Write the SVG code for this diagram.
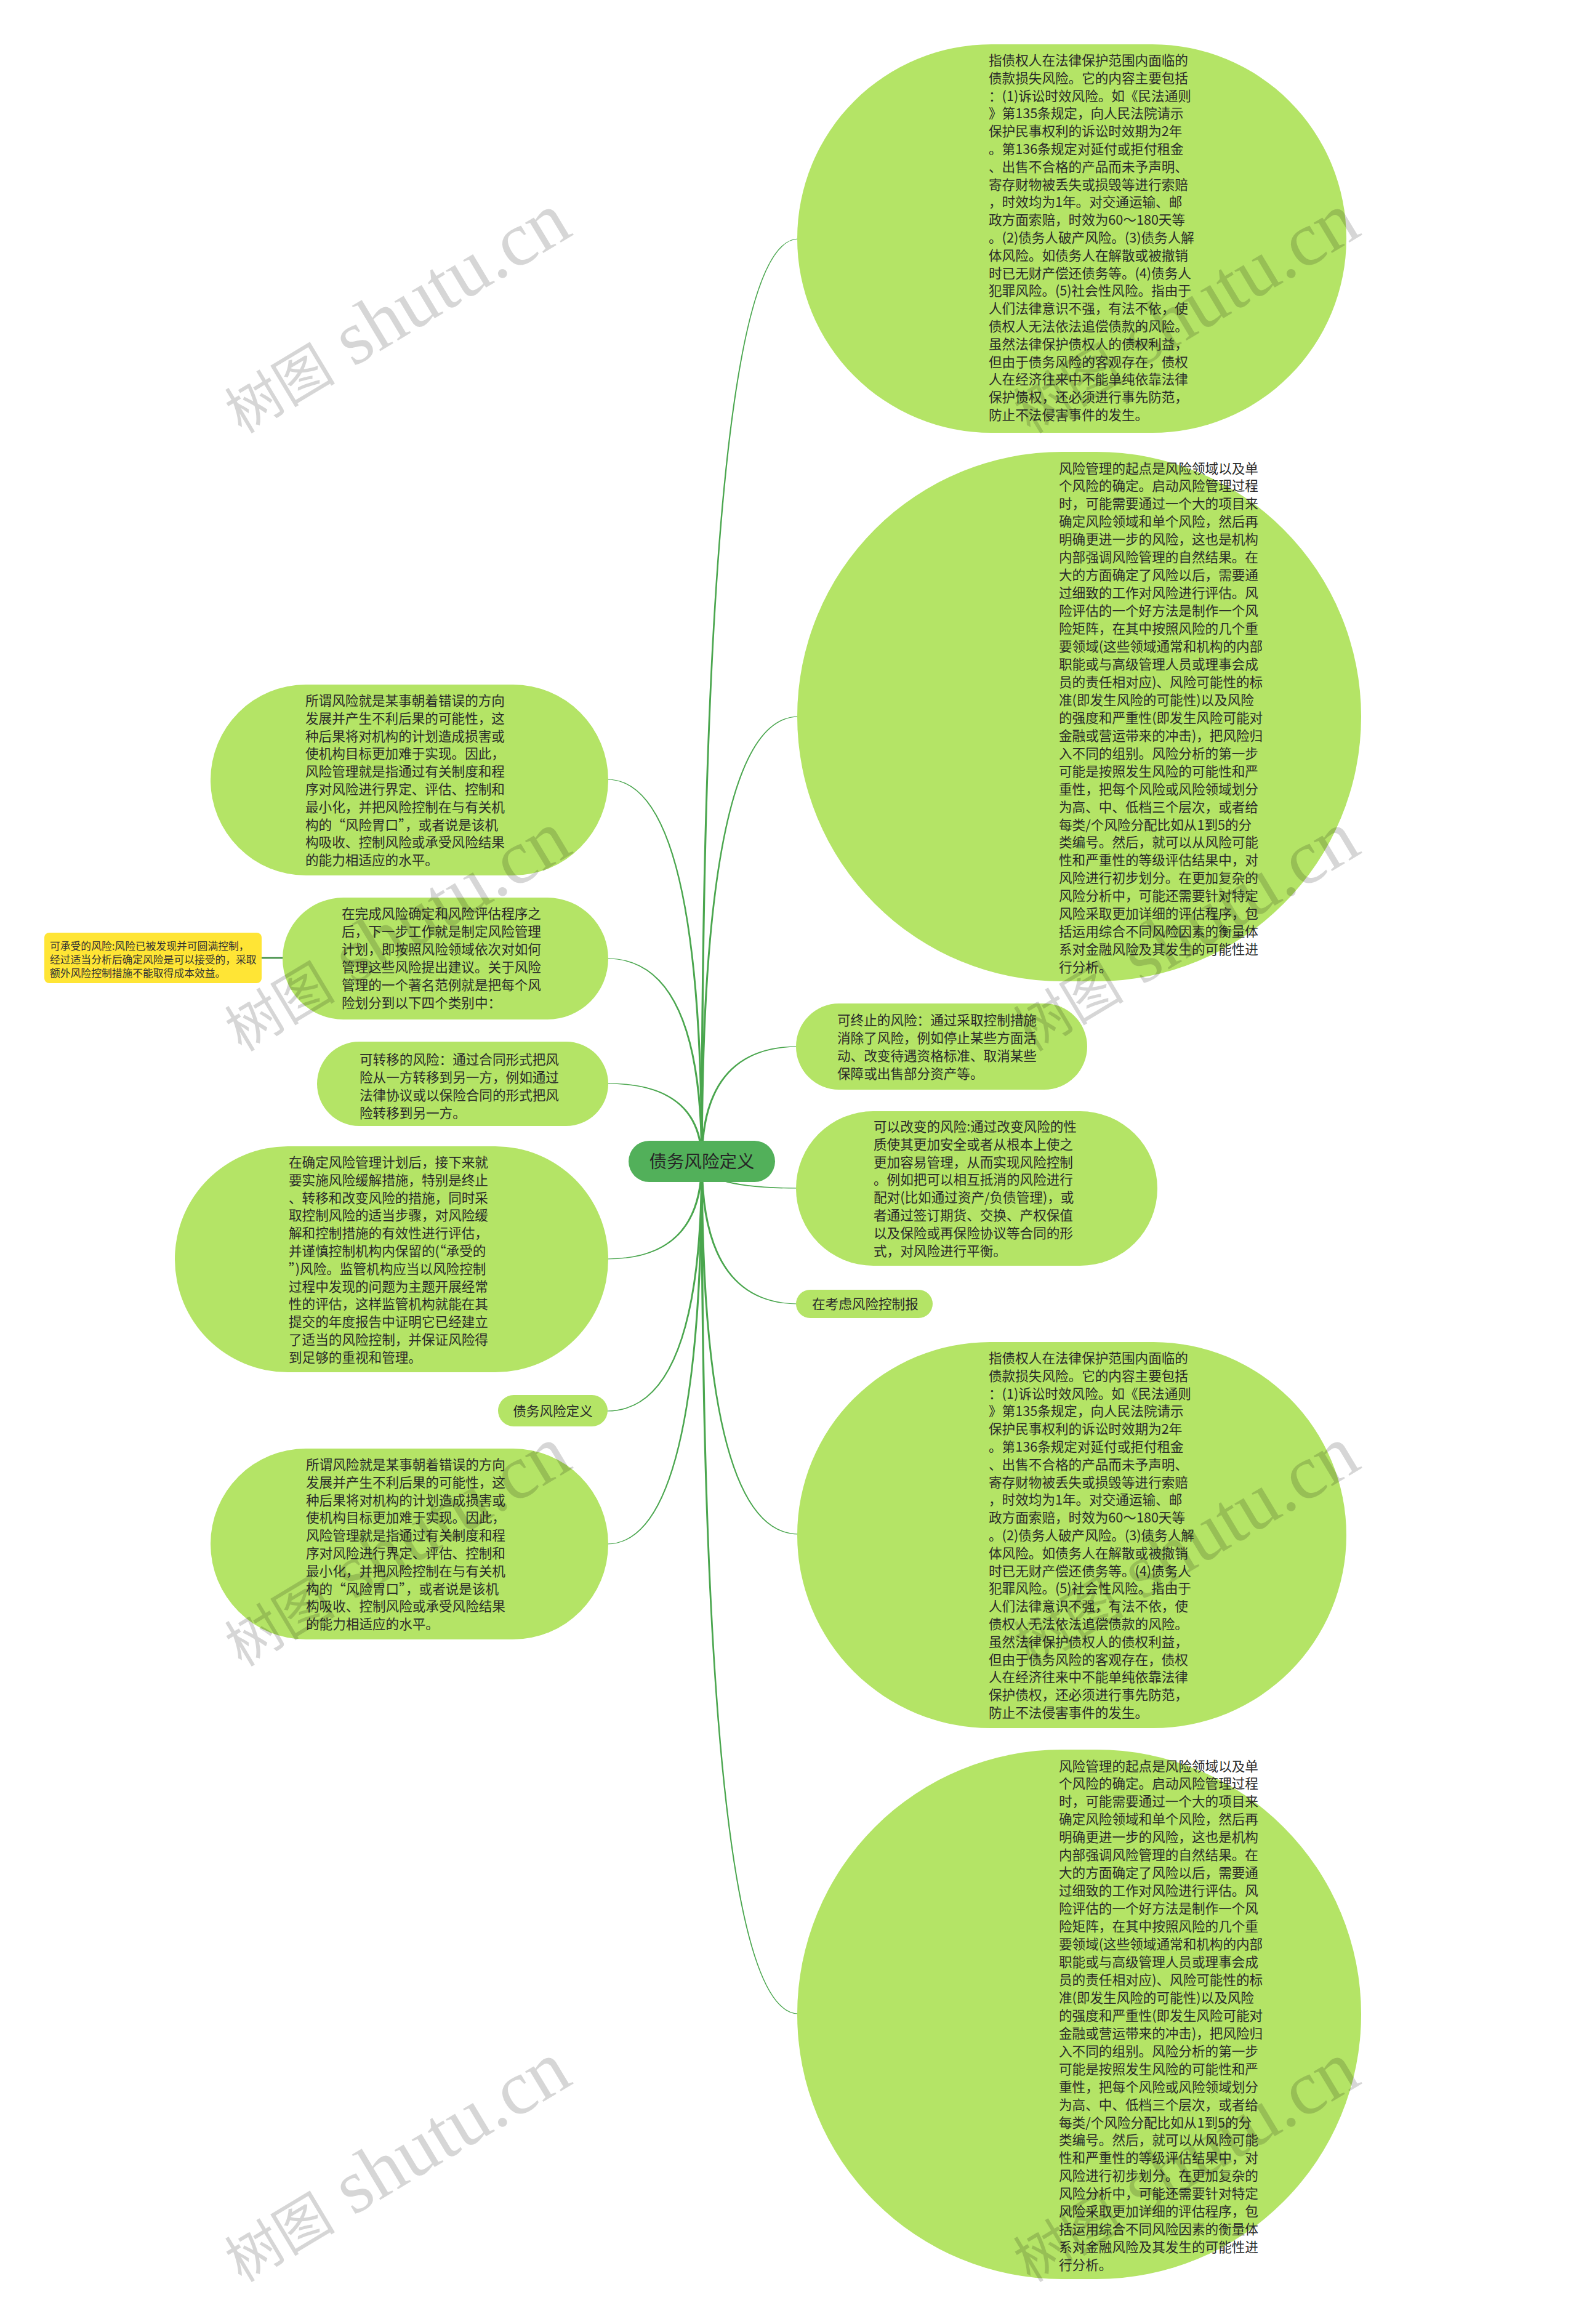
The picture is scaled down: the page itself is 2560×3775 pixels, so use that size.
<svg xmlns="http://www.w3.org/2000/svg" width="2560" height="3775" viewBox="0 0 2560 3775">
<style>
.n{fill:#b4e466}
.c{fill:#52b05a}
.y{fill:#ffe535}
.t{font-family:"Noto Sans CJK SC","Noto Sans",sans-serif;font-size:21.6px;fill:#2a2a2a}
.ts{font-family:"Noto Sans CJK SC","Noto Sans",sans-serif;font-size:16.8px;fill:#333}
.ct{font-family:"Noto Sans CJK SC","Noto Sans",sans-serif;font-size:28.5px;fill:#262626}
.e{fill:#4aa64e}
.wm{font-family:"Liberation Serif","Noto Sans CJK SC",serif;font-size:125px;fill:#000;fill-opacity:0.16}
</style>
<rect width="2560" height="3775" fill="#ffffff"/>
<g id="connectors">
<path class="e" d="M1138.2,1887 Q1138.8,386.8 1297,387.4 L1297,388.6 Q1141.2,389.2 1141.8,1887 Z"/>
<path class="e" d="M1138.2,1887 Q1138.8,1162.8 1297,1163.4 L1297,1164.6 Q1141.2,1165.2 1141.8,1887 Z"/>
<path class="e" d="M1138.2,1887 Q1138.8,1698.8 1297,1699.4 L1297,1700.6 Q1141.2,1701.2 1141.8,1887 Z"/>
<path class="e" d="M1138.2,1887 Q1138.8,1931.2 1297,1930.6 L1297,1929.4 Q1141.2,1928.8 1141.8,1887 Z"/>
<path class="e" d="M1138.2,1887 Q1138.8,2119.2 1297,2118.6 L1297,2117.4 Q1141.2,2116.8 1141.8,1887 Z"/>
<path class="e" d="M1138.2,1887 Q1138.8,2493.2 1297,2492.6 L1297,2491.4 Q1141.2,2490.8 1141.8,1887 Z"/>
<path class="e" d="M1138.2,1887 Q1138.8,3272.2 1297,3271.6 L1297,3270.4 Q1141.2,3269.8 1141.8,1887 Z"/>
<path class="e" d="M1141.8,1887 Q1141.2,1264.8 986,1265.4 L986,1266.6 Q1138.8,1267.2 1138.2,1887 Z"/>
<path class="e" d="M1141.8,1887 Q1141.2,1555.8 986,1556.4 L986,1557.6 Q1138.8,1558.2 1138.2,1887 Z"/>
<path class="e" d="M1141.8,1887 Q1141.2,1758.8 986,1759.4 L986,1760.6 Q1138.8,1761.2 1138.2,1887 Z"/>
<path class="e" d="M1141.8,1887 Q1141.2,2046.2 986,2045.6 L986,2044.4 Q1138.8,2043.8 1138.2,1887 Z"/>
<path class="e" d="M1141.8,1887 Q1141.2,2293.2 986,2292.6 L986,2291.4 Q1138.8,2290.8 1138.2,1887 Z"/>
<path class="e" d="M1141.8,1887 Q1141.2,2509.2 986,2508.6 L986,2507.4 Q1138.8,2506.8 1138.2,1887 Z"/>
<line x1="424" y1="1556" x2="462" y2="1556" stroke="#3d8b40" stroke-width="2.5"/>
</g>
<g id="center">
<rect class="c" x="1021" y="1853" width="238" height="67" rx="33.5"/>
<text class="ct" x="1140" y="1897" text-anchor="middle">债务风险定义</text>
</g>
<g id="nodeA">
<rect class="n" x="1295" y="72" width="892" height="631" rx="315.5"/>
<text class="t" y="106"><tspan x="1606">指债权人在法律保护范围内面临的</tspan><tspan x="1606" dy="28.8">债款损失风险。它的内容主要包括</tspan><tspan x="1606" dy="28.8">：(1)诉讼时效风险。如《民法通则</tspan><tspan x="1606" dy="28.8">》第135条规定，向人民法院请示</tspan><tspan x="1606" dy="28.8">保护民事权利的诉讼时效期为2年</tspan><tspan x="1606" dy="28.8">。第136条规定对延付或拒付租金</tspan><tspan x="1606" dy="28.8">、出售不合格的产品而未予声明、</tspan><tspan x="1606" dy="28.8">寄存财物被丢失或损毁等进行索赔</tspan><tspan x="1606" dy="28.8">，时效均为1年。对交通运输、邮</tspan><tspan x="1606" dy="28.8">政方面索赔，时效为60～180天等</tspan><tspan x="1606" dy="28.8">。(2)债务人破产风险。(3)债务人解</tspan><tspan x="1606" dy="28.8">体风险。如债务人在解散或被撤销</tspan><tspan x="1606" dy="28.8">时已无财产偿还债务等。(4)债务人</tspan><tspan x="1606" dy="28.8">犯罪风险。(5)社会性风险。指由于</tspan><tspan x="1606" dy="28.8">人们法律意识不强，有法不依，使</tspan><tspan x="1606" dy="28.8">债权人无法依法追偿债款的风险。</tspan><tspan x="1606" dy="28.8">虽然法律保护债权人的债权利益，</tspan><tspan x="1606" dy="28.8">但由于债务风险的客观存在，债权</tspan><tspan x="1606" dy="28.8">人在经济往来中不能单纯依靠法律</tspan><tspan x="1606" dy="28.8">保护债权，还必须进行事先防范，</tspan><tspan x="1606" dy="28.8">防止不法侵害事件的发生。</tspan></text>
</g>
<g id="nodeB">
<rect class="n" x="1295" y="734" width="916" height="860" rx="430"/>
<text class="t" y="768.5"><tspan x="1720">风险管理的起点是风险领域以及单</tspan><tspan x="1720" dy="28.95">个风险的确定。启动风险管理过程</tspan><tspan x="1720" dy="28.95">时，可能需要通过一个大的项目来</tspan><tspan x="1720" dy="28.95">确定风险领域和单个风险，然后再</tspan><tspan x="1720" dy="28.95">明确更进一步的风险，这也是机构</tspan><tspan x="1720" dy="28.95">内部强调风险管理的自然结果。在</tspan><tspan x="1720" dy="28.95">大的方面确定了风险以后，需要通</tspan><tspan x="1720" dy="28.95">过细致的工作对风险进行评估。风</tspan><tspan x="1720" dy="28.95">险评估的一个好方法是制作一个风</tspan><tspan x="1720" dy="28.95">险矩阵，在其中按照风险的几个重</tspan><tspan x="1720" dy="28.95">要领域(这些领域通常和机构的内部</tspan><tspan x="1720" dy="28.95">职能或与高级管理人员或理事会成</tspan><tspan x="1720" dy="28.95">员的责任相对应)、风险可能性的标</tspan><tspan x="1720" dy="28.95">准(即发生风险的可能性)以及风险</tspan><tspan x="1720" dy="28.95">的强度和严重性(即发生风险可能对</tspan><tspan x="1720" dy="28.95">金融或营运带来的冲击)，把风险归</tspan><tspan x="1720" dy="28.95">入不同的组别。风险分析的第一步</tspan><tspan x="1720" dy="28.95">可能是按照发生风险的可能性和严</tspan><tspan x="1720" dy="28.95">重性，把每个风险或风险领域划分</tspan><tspan x="1720" dy="28.95">为高、中、低档三个层次，或者给</tspan><tspan x="1720" dy="28.95">每类/个风险分配比如从1到5的分</tspan><tspan x="1720" dy="28.95">类编号。然后，就可以从风险可能</tspan><tspan x="1720" dy="28.95">性和严重性的等级评估结果中，对</tspan><tspan x="1720" dy="28.95">风险进行初步划分。在更加复杂的</tspan><tspan x="1720" dy="28.95">风险分析中，可能还需要针对特定</tspan><tspan x="1720" dy="28.95">风险采取更加详细的评估程序，包</tspan><tspan x="1720" dy="28.95">括运用综合不同风险因素的衡量体</tspan><tspan x="1720" dy="28.95">系对金融风险及其发生的可能性进</tspan><tspan x="1720" dy="28.95">行分析。</tspan></text>
</g>
<g id="nodeC">
<rect class="n" x="1293" y="1630" width="473" height="140" rx="70"/>
<text class="t" y="1665"><tspan x="1360">可终止的风险：通过采取控制措施</tspan><tspan x="1360" dy="29">消除了风险，例如停止某些方面活</tspan><tspan x="1360" dy="29">动、改变待遇资格标准、取消某些</tspan><tspan x="1360" dy="29">保障或出售部分资产等。</tspan></text>
</g>
<g id="nodeD">
<rect class="n" x="1293" y="1805" width="587" height="251" rx="125.5"/>
<text class="t" y="1838"><tspan x="1419">可以改变的风险:通过改变风险的性</tspan><tspan x="1419" dy="28.8">质使其更加安全或者从根本上使之</tspan><tspan x="1419" dy="28.8">更加容易管理，从而实现风险控制</tspan><tspan x="1419" dy="28.8">。例如把可以相互抵消的风险进行</tspan><tspan x="1419" dy="28.8">配对(比如通过资产/负债管理)，或</tspan><tspan x="1419" dy="28.8">者通过签订期货、交换、产权保值</tspan><tspan x="1419" dy="28.8">以及保险或再保险协议等合同的形</tspan><tspan x="1419" dy="28.8">式，对风险进行平衡。</tspan></text>
</g>
<g id="nodeE">
<rect class="n" x="1293" y="2095" width="222" height="46" rx="23"/>
<text class="t" x="1319" y="2126">在考虑风险控制报</text>
</g>
<g id="nodeF">
<rect class="n" x="1295" y="2180" width="892" height="627" rx="313.5"/>
<text class="t" y="2214"><tspan x="1606">指债权人在法律保护范围内面临的</tspan><tspan x="1606" dy="28.8">债款损失风险。它的内容主要包括</tspan><tspan x="1606" dy="28.8">：(1)诉讼时效风险。如《民法通则</tspan><tspan x="1606" dy="28.8">》第135条规定，向人民法院请示</tspan><tspan x="1606" dy="28.8">保护民事权利的诉讼时效期为2年</tspan><tspan x="1606" dy="28.8">。第136条规定对延付或拒付租金</tspan><tspan x="1606" dy="28.8">、出售不合格的产品而未予声明、</tspan><tspan x="1606" dy="28.8">寄存财物被丢失或损毁等进行索赔</tspan><tspan x="1606" dy="28.8">，时效均为1年。对交通运输、邮</tspan><tspan x="1606" dy="28.8">政方面索赔，时效为60～180天等</tspan><tspan x="1606" dy="28.8">。(2)债务人破产风险。(3)债务人解</tspan><tspan x="1606" dy="28.8">体风险。如债务人在解散或被撤销</tspan><tspan x="1606" dy="28.8">时已无财产偿还债务等。(4)债务人</tspan><tspan x="1606" dy="28.8">犯罪风险。(5)社会性风险。指由于</tspan><tspan x="1606" dy="28.8">人们法律意识不强，有法不依，使</tspan><tspan x="1606" dy="28.8">债权人无法依法追偿债款的风险。</tspan><tspan x="1606" dy="28.8">虽然法律保护债权人的债权利益，</tspan><tspan x="1606" dy="28.8">但由于债务风险的客观存在，债权</tspan><tspan x="1606" dy="28.8">人在经济往来中不能单纯依靠法律</tspan><tspan x="1606" dy="28.8">保护债权，还必须进行事先防范，</tspan><tspan x="1606" dy="28.8">防止不法侵害事件的发生。</tspan></text>
</g>
<g id="nodeG">
<rect class="n" x="1295" y="2842" width="916" height="860" rx="430"/>
<text class="t" y="2876.5"><tspan x="1720">风险管理的起点是风险领域以及单</tspan><tspan x="1720" dy="28.95">个风险的确定。启动风险管理过程</tspan><tspan x="1720" dy="28.95">时，可能需要通过一个大的项目来</tspan><tspan x="1720" dy="28.95">确定风险领域和单个风险，然后再</tspan><tspan x="1720" dy="28.95">明确更进一步的风险，这也是机构</tspan><tspan x="1720" dy="28.95">内部强调风险管理的自然结果。在</tspan><tspan x="1720" dy="28.95">大的方面确定了风险以后，需要通</tspan><tspan x="1720" dy="28.95">过细致的工作对风险进行评估。风</tspan><tspan x="1720" dy="28.95">险评估的一个好方法是制作一个风</tspan><tspan x="1720" dy="28.95">险矩阵，在其中按照风险的几个重</tspan><tspan x="1720" dy="28.95">要领域(这些领域通常和机构的内部</tspan><tspan x="1720" dy="28.95">职能或与高级管理人员或理事会成</tspan><tspan x="1720" dy="28.95">员的责任相对应)、风险可能性的标</tspan><tspan x="1720" dy="28.95">准(即发生风险的可能性)以及风险</tspan><tspan x="1720" dy="28.95">的强度和严重性(即发生风险可能对</tspan><tspan x="1720" dy="28.95">金融或营运带来的冲击)，把风险归</tspan><tspan x="1720" dy="28.95">入不同的组别。风险分析的第一步</tspan><tspan x="1720" dy="28.95">可能是按照发生风险的可能性和严</tspan><tspan x="1720" dy="28.95">重性，把每个风险或风险领域划分</tspan><tspan x="1720" dy="28.95">为高、中、低档三个层次，或者给</tspan><tspan x="1720" dy="28.95">每类/个风险分配比如从1到5的分</tspan><tspan x="1720" dy="28.95">类编号。然后，就可以从风险可能</tspan><tspan x="1720" dy="28.95">性和严重性的等级评估结果中，对</tspan><tspan x="1720" dy="28.95">风险进行初步划分。在更加复杂的</tspan><tspan x="1720" dy="28.95">风险分析中，可能还需要针对特定</tspan><tspan x="1720" dy="28.95">风险采取更加详细的评估程序，包</tspan><tspan x="1720" dy="28.95">括运用综合不同风险因素的衡量体</tspan><tspan x="1720" dy="28.95">系对金融风险及其发生的可能性进</tspan><tspan x="1720" dy="28.95">行分析。</tspan></text>
</g>
<g id="nodeL1">
<rect class="n" x="342" y="1112" width="646" height="310" rx="155"/>
<text class="t" y="1146"><tspan x="496">所谓风险就是某事朝着错误的方向</tspan><tspan x="496" dy="28.8">发展并产生不利后果的可能性，这</tspan><tspan x="496" dy="28.8">种后果将对机构的计划造成损害或</tspan><tspan x="496" dy="28.8">使机构目标更加难于实现。因此，</tspan><tspan x="496" dy="28.8">风险管理就是指通过有关制度和程</tspan><tspan x="496" dy="28.8">序对风险进行界定、评估、控制和</tspan><tspan x="496" dy="28.8">最小化，并把风险控制在与有关机</tspan><tspan x="496" dy="28.8">构的“风险胃口”，或者说是该机</tspan><tspan x="496" dy="28.8">构吸收、控制风险或承受风险结果</tspan><tspan x="496" dy="28.8">的能力相适应的水平。</tspan></text>
</g>
<g id="nodeL2">
<rect class="n" x="459" y="1458" width="529" height="198" rx="99"/>
<text class="t" y="1492"><tspan x="555">在完成风险确定和风险评估程序之</tspan><tspan x="555" dy="29">后，下一步工作就是制定风险管理</tspan><tspan x="555" dy="29">计划，即按照风险领域依次对如何</tspan><tspan x="555" dy="29">管理这些风险提出建议。关于风险</tspan><tspan x="555" dy="29">管理的一个著名范例就是把每个风</tspan><tspan x="555" dy="29">险划分到以下四个类别中：</tspan></text>
</g>
<g id="noteY">
<rect class="y" x="72" y="1515" width="353" height="82" rx="8"/>
<text class="ts" y="1543"><tspan x="81">可承受的风险:风险已被发现并可圆满控制，</tspan><tspan x="81" dy="22">经过适当分析后确定风险是可以接受的，采取</tspan><tspan x="81" dy="22">额外风险控制措施不能取得成本效益。</tspan></text>
</g>
<g id="nodeL3">
<rect class="n" x="515" y="1692" width="473" height="137" rx="68.5"/>
<text class="t" y="1729"><tspan x="584">可转移的风险：通过合同形式把风</tspan><tspan x="584" dy="29">险从一方转移到另一方，例如通过</tspan><tspan x="584" dy="29">法律协议或以保险合同的形式把风</tspan><tspan x="584" dy="29">险转移到另一方。</tspan></text>
</g>
<g id="nodeL4">
<rect class="n" x="284" y="1862" width="704" height="367" rx="183.5"/>
<text class="t" y="1896"><tspan x="469">在确定风险管理计划后，接下来就</tspan><tspan x="469" dy="28.8">要实施风险缓解措施，特别是终止</tspan><tspan x="469" dy="28.8">、转移和改变风险的措施，同时采</tspan><tspan x="469" dy="28.8">取控制风险的适当步骤，对风险缓</tspan><tspan x="469" dy="28.8">解和控制措施的有效性进行评估，</tspan><tspan x="469" dy="28.8">并谨慎控制机构内保留的(“承受的</tspan><tspan x="469" dy="28.8">”)风险。监管机构应当以风险控制</tspan><tspan x="469" dy="28.8">过程中发现的问题为主题开展经常</tspan><tspan x="469" dy="28.8">性的评估，这样监管机构就能在其</tspan><tspan x="469" dy="28.8">提交的年度报告中证明它已经建立</tspan><tspan x="469" dy="28.8">了适当的风险控制，并保证风险得</tspan><tspan x="469" dy="28.8">到足够的重视和管理。</tspan></text>
</g>
<g id="nodeL5">
<rect class="n" x="809" y="2266" width="178" height="51" rx="25.5"/>
<text class="t" x="898" y="2300" text-anchor="middle">债务风险定义</text>
</g>
<g id="nodeL6">
<rect class="n" x="342" y="2353" width="646" height="310" rx="155"/>
<text class="t" y="2387"><tspan x="497">所谓风险就是某事朝着错误的方向</tspan><tspan x="497" dy="28.8">发展并产生不利后果的可能性，这</tspan><tspan x="497" dy="28.8">种后果将对机构的计划造成损害或</tspan><tspan x="497" dy="28.8">使机构目标更加难于实现。因此，</tspan><tspan x="497" dy="28.8">风险管理就是指通过有关制度和程</tspan><tspan x="497" dy="28.8">序对风险进行界定、评估、控制和</tspan><tspan x="497" dy="28.8">最小化，并把风险控制在与有关机</tspan><tspan x="497" dy="28.8">构的“风险胃口”，或者说是该机</tspan><tspan x="497" dy="28.8">构吸收、控制风险或承受风险结果</tspan><tspan x="497" dy="28.8">的能力相适应的水平。</tspan></text>
</g>
<g id="watermarks">
<text class="wm" transform="translate(645,513) rotate(-31)" x="0" y="35" text-anchor="middle"><tspan style="font-size:90px">树图</tspan> shutu.cn</text>
<text class="wm" transform="translate(1926,513) rotate(-31)" x="0" y="35" text-anchor="middle"><tspan style="font-size:90px">树图</tspan> shutu.cn</text>
<text class="wm" transform="translate(645,1517) rotate(-31)" x="0" y="35" text-anchor="middle"><tspan style="font-size:90px">树图</tspan> shutu.cn</text>
<text class="wm" transform="translate(1926,1517) rotate(-31)" x="0" y="35" text-anchor="middle"><tspan style="font-size:90px">树图</tspan> shutu.cn</text>
<text class="wm" transform="translate(645,2516) rotate(-31)" x="0" y="35" text-anchor="middle"><tspan style="font-size:90px">树图</tspan> shutu.cn</text>
<text class="wm" transform="translate(1926,2516) rotate(-31)" x="0" y="35" text-anchor="middle"><tspan style="font-size:90px">树图</tspan> shutu.cn</text>
<text class="wm" transform="translate(645,3516) rotate(-31)" x="0" y="35" text-anchor="middle"><tspan style="font-size:90px">树图</tspan> shutu.cn</text>
<text class="wm" transform="translate(1926,3516) rotate(-31)" x="0" y="35" text-anchor="middle"><tspan style="font-size:90px">树图</tspan> shutu.cn</text>
</g>
</svg>
